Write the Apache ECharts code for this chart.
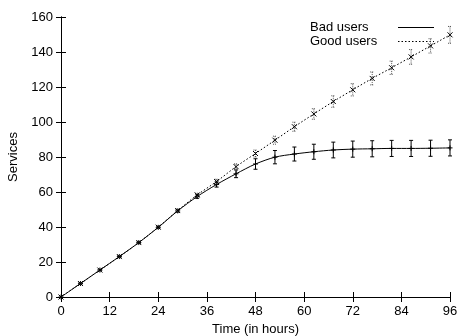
<!DOCTYPE html>
<html>
<head>
<meta charset="utf-8">
<script src="https://cdn.jsdelivr.net/npm/echarts@6/dist/echarts.min.js"></script>
<style>
  html, body { margin: 0; padding: 0; background: #fff; }
  #chart { width: 460px; height: 336px; }
</style>
</head>
<body>
<div id="chart"></div>
<script>
// sample times (hours)
const hours = [0, 4.8, 9.6, 14.4, 19.2, 24, 28.8, 33.6, 38.4, 43.2, 48,
               52.8, 57.6, 62.4, 67.2, 72, 76.8, 81.6, 86.4, 91.2, 96];
// services, mean and error half-width
const badUsers = [0, 7.7, 15.4, 23.1, 31.1, 39.8, 49.2, 57.4, 64.3, 70.4, 76.0,
                  79.9, 81.7, 83.0, 84.0, 84.5, 84.7, 84.9, 84.9, 85.0, 85.2];
const badErr   = [0, 0.3, 0.4, 0.5, 0.5, 0.6, 0.7, 1.0, 1.5, 2.2, 3.0,
                  3.8, 4.0, 4.3, 4.5, 4.6, 4.6, 4.6, 4.6, 4.6, 4.6];
const goodUsers = [0, 7.7, 15.4, 23.1, 31.1, 39.9, 49.4, 58.3, 66.0, 74.5, 82.0,
                   89.6, 97.3, 104.6, 111.7, 118.4, 124.9, 131.0, 137.2, 143.5, 149.8];
const goodErr   = [0, 0.3, 0.4, 0.5, 0.5, 0.6, 0.8, 1.0, 1.3, 1.6, 2.0,
                   2.3, 2.6, 3.0, 3.3, 3.5, 3.7, 3.8, 4.2, 4.1, 4.8];
const xTicks = { min: 0, max: 96, interval: 12 };
const yTicks = { min: 0, max: 160, interval: 20 };

const FONT = "'Liberation Sans', Arial, sans-serif";
const FS = 13;

const lineData = (ys) => hours.map((h, i) => [h, ys[i]]);
const errData = (ys, es) => hours.map((h, i) => [h, ys[i], es[i]]);

// error bar with caps + point marker (plus or cross)
function errRender(kind, dashed) {
  return function (params, api) {
    const x = api.value(0), y = api.value(1), e = api.value(2);
    const p = api.coord([x, y]);
    const t = api.coord([x, y + e]);
    const b = api.coord([x, y - e]);
    const st = { stroke: dashed ? '#555' : '#000', lineWidth: 1, lineDash: dashed ? [1, 1] : null };
    const mk = { stroke: '#000', lineWidth: 1 };
    const cap = 2;
    const s = 2.5;
    const kids = [];
    if (e > 0) {
      kids.push({ type: 'line', shape: { x1: t[0], y1: t[1], x2: b[0], y2: b[1] }, style: st });
      kids.push({ type: 'line', shape: { x1: t[0] - cap, y1: t[1], x2: t[0] + cap, y2: t[1] }, style: st });
      kids.push({ type: 'line', shape: { x1: b[0] - cap, y1: b[1], x2: b[0] + cap, y2: b[1] }, style: st });
    }
    if (kind === 'plus') {
      kids.push({ type: 'line', shape: { x1: p[0] - s, y1: p[1], x2: p[0] + s, y2: p[1] }, style: mk });
      kids.push({ type: 'line', shape: { x1: p[0], y1: p[1] - s, x2: p[0], y2: p[1] + s }, style: mk });
    } else {
      kids.push({ type: 'line', shape: { x1: p[0] - s, y1: p[1] - s, x2: p[0] + s, y2: p[1] + s }, style: mk });
      kids.push({ type: 'line', shape: { x1: p[0] - s, y1: p[1] + s, x2: p[0] + s, y2: p[1] - s }, style: mk });
    }
    return { type: 'group', children: kids };
  };
}

const axisCommon = {
  type: 'value',
  axisLine: { lineStyle: { color: '#000', width: 1 } },
  axisTick: { inside: true, length: 5, lineStyle: { color: '#000' } },
  splitLine: { show: false },
  axisLabel: { color: '#000', fontFamily: FONT, fontSize: FS, margin: 8 }
};

const chart = echarts.init(document.getElementById('chart'), null, { renderer: 'canvas' });
chart.setOption({
  animation: false,
  backgroundColor: '#fff',
  grid: { left: 61, right: 10, top: 17, bottom: 39, outerBoundsMode: 'none', containLabel: false },
  legend: {
    orient: 'vertical',
    left: 310,
    top: 21,
    align: 'right',
    padding: 0,
    itemGap: 1,
    itemWidth: 36,
    itemHeight: 13,
    data: ['Bad users', 'Good users'],
    formatter: '{a|{name}}',
    itemStyle: { opacity: 0 },
    lineStyle: { width: 1 },
    textStyle: {
      color: '#000', fontFamily: FONT, fontSize: FS,
      rich: { a: { width: 83, align: 'left', fontFamily: FONT, fontSize: FS, color: '#000', lineHeight: 13 } }
    },
    selectedMode: false
  },
  xAxis: [
    Object.assign({}, axisCommon, xTicks, {
      position: 'bottom',
      name: 'Time (in hours)',
      nameLocation: 'middle',
      nameGap: 26,
      nameTextStyle: { color: '#000', fontFamily: FONT, fontSize: FS }
    }),
    Object.assign({}, axisCommon, xTicks, { position: 'top', axisLabel: { show: false } })
  ],
  yAxis: [
    Object.assign({}, axisCommon, yTicks, {
      position: 'left',
      name: 'Services',
      nameLocation: 'middle',
      nameGap: 41,
      nameTextStyle: { color: '#000', fontFamily: FONT, fontSize: FS }
    }),
    Object.assign({}, axisCommon, yTicks, { position: 'right', axisLabel: { show: false } })
  ],
  series: [
    {
      name: 'Bad users',
      type: 'line',
      data: lineData(badUsers),
      smooth: 0.3,
      symbol: 'none',
      lineStyle: { color: '#000', width: 1 },
      itemStyle: { color: '#000' },
      z: 3
    },
    {
      name: 'Good users',
      type: 'line',
      data: lineData(goodUsers),
      smooth: 0.3,
      symbol: 'none',
      lineStyle: { color: '#000', width: 1, type: [1.5, 2] },
      itemStyle: { color: '#000' },
      z: 3
    },
    {
      name: 'bad-err',
      type: 'custom',
      data: errData(badUsers, badErr),
      renderItem: errRender('plus', false),
      z: 4
    },
    {
      name: 'good-err',
      type: 'custom',
      data: errData(goodUsers, goodErr),
      renderItem: errRender('cross', true),
      z: 4
    }
  ]
});
</script>
</body>
</html>
